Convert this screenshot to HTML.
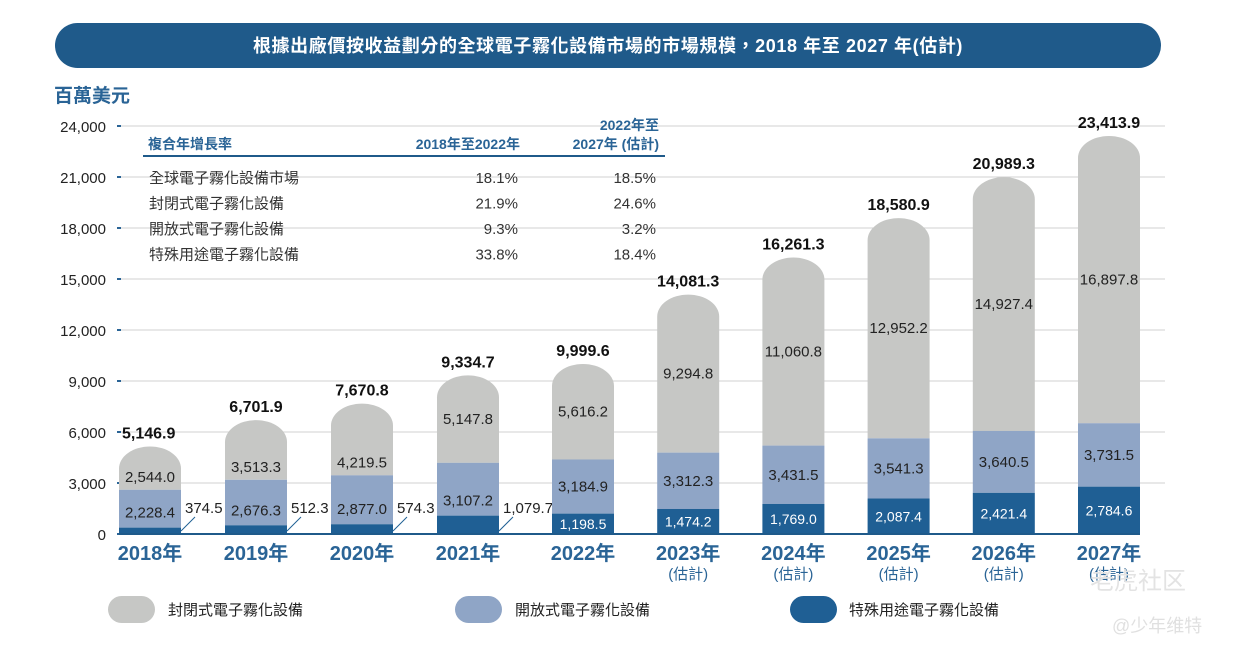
<!DOCTYPE html>
<html><head><meta charset="utf-8"><style>
body{margin:0;background:#fff;}
svg text{font-family:"Liberation Sans","Noto Sans CJK TC",sans-serif;}
</style></head><body>
<svg id="chart" width="1242" height="652" viewBox="0 0 1242 652" xmlns="http://www.w3.org/2000/svg">
<rect x="55" y="23" width="1106" height="45" rx="22.5" fill="#1f5a8a"/>
<text x="608" y="52" text-anchor="middle" fill="#fff" font-size="18" font-weight="bold" letter-spacing="0.6">根據出廠價按收益劃分的全球電子霧化設備市場的市場規模，2018 年至 2027 年(估計)</text>
<text x="54" y="102" fill="#2a6496" font-size="19" font-weight="bold">百萬美元</text>
<g id="grid"></g>
<g>
<text x="148" y="149" fill="#2a6496" font-size="14" font-weight="bold">複合年增長率</text>
<text x="520" y="149" text-anchor="end" fill="#2a6496" font-size="14" font-weight="bold">2018年至2022年</text>
<text x="659" y="130" text-anchor="end" fill="#2a6496" font-size="14" font-weight="bold">2022年至</text>
<text x="659" y="149" text-anchor="end" fill="#2a6496" font-size="14" font-weight="bold">2027年 (估計)</text>
<line x1="143" y1="156" x2="665" y2="156" stroke="#1f5a8a" stroke-width="2"/>
<g id="rows"></g>
</g>
<g id="bars"></g>
<g>
<rect x="108" y="596" width="47" height="27" rx="13.5" fill="#c6c7c5"/>
<text x="168" y="615" font-size="15" fill="#222">封閉式電子霧化設備</text>
<rect x="455" y="596" width="47" height="27" rx="13.5" fill="#8fa5c6"/>
<text x="515" y="615" font-size="15" fill="#222">開放式電子霧化設備</text>
<rect x="790" y="596" width="47" height="27" rx="13.5" fill="#1f5f94"/>
<text x="849" y="615" font-size="15" fill="#222">特殊用途電子霧化設備</text>
</g>
<text x="1090" y="589" font-size="24" fill="#e3e3e3">老虎社区</text>
<text x="1112" y="632" font-size="18" fill="#e0e0e0">@少年维特</text>
</svg>
<script>
const years=["2018年","2019年","2020年","2021年","2022年","2023年","2024年","2025年","2026年","2027年"];
const estimated=[false,false,false,false,false,true,true,true,true,true];
const special=[374.5,512.3,574.3,1079.7,1198.5,1474.2,1769.0,2087.4,2421.4,2784.6];
const openSys=[2228.4,2676.3,2877.0,3107.2,3184.9,3312.3,3431.5,3541.3,3640.5,3731.5];
const closedSys=[2544.0,3513.3,4219.5,5147.8,5616.2,9294.8,11060.8,12952.2,14927.4,16897.8];
const totals=[5146.9,6701.9,7670.8,9334.7,9999.6,14081.3,16261.3,18580.9,20989.3,23413.9];
const yTicks=[0,3000,6000,9000,12000,15000,18000,21000,24000];
const tableNames=["全球電子霧化設備市場","封閉式電子霧化設備","開放式電子霧化設備","特殊用途電子霧化設備"];
const cagr1=["18.1%","21.9%","9.3%","33.8%"];
const cagr2=["18.5%","24.6%","3.2%","18.4%"];

const NS="http://www.w3.org/2000/svg";
const y=v=>534-v*(408/24000);
const xc=i=>150+i*106+(i>=4?9:0)-(i>=5?(i-4)*0.8:0);
const BW=62;
const fmt=v=>v.toLocaleString("en-US",{minimumFractionDigits:1,maximumFractionDigits:1});
function mk(tag,attrs,parent,txt){const e=document.createElementNS(NS,tag);for(const k in attrs)e.setAttribute(k,attrs[k]);if(txt!==undefined)e.textContent=txt;parent.appendChild(e);return e;}

const grid=document.getElementById('grid');
yTicks.forEach(t=>{
  if(t>0){const g=mk('line',{x1:121,x2:1165,y1:y(t),y2:y(t),stroke:'#d0d0d0','stroke-width':1},grid);
  
  }
  const tk=mk('line',{x1:117,x2:121,y1:y(t),y2:y(t),stroke:'#2a6496','stroke-width':2},grid);
  
  
  const lb=mk('text',{x:106,y:y(t)+6,'text-anchor':'end','font-size':15,fill:'#222'},grid,t.toLocaleString('en-US'));
  
  
});

const rows=document.getElementById('rows');
tableNames.forEach((n,i)=>{
  const ry=183+i*25.5;
  const a=mk('text',{x:149,y:ry,'font-size':15,fill:'#333'},rows,n);
  
  
  const b=mk('text',{x:518,y:ry,'text-anchor':'end','font-size':15,fill:'#333'},rows,cagr1[i]);
  
  
  const c=mk('text',{x:656,y:ry,'text-anchor':'end','font-size':15,fill:'#333'},rows,cagr2[i]);
  
  
});

const bars=document.getElementById('bars');
years.forEach((yr,i)=>{
  const cx=xc(i),x0=cx-BW/2,x1=cx+BW/2;
  const b0=y(0),b1=y(special[i]),b2=y(special[i]+openSys[i]),top=y(special[i]+openSys[i]+closedSys[i]);
  const ry=Math.min(22,(b2-top)*0.9);
  const gp=mk('path',{d:`M${x0},${b2} L${x0},${top+ry} A${BW/2},${ry} 0 0 1 ${x1},${top+ry} L${x1},${b2} Z`,fill:'#c6c7c5'},bars);
  
  
  const op=mk('rect',{x:x0,y:b2,width:BW,height:b1-b2,fill:'#8fa5c6'},bars);
  
  
  const sp=mk('rect',{x:x0,y:b1,width:BW,height:b0-b1,fill:'#1f5f94'},bars);
  
  
  const tl=mk('text',{x:i==0?x0+3:cx,y:top-8,'text-anchor':i==0?'start':'middle','font-size':16,'font-weight':'bold',fill:'#111'},bars,fmt(totals[i]));
  
  
  const gh=b2-top;
  const gy=gh>80?(b2+top)/2+5:b2-8;
  const gl=mk('text',{x:cx,y:gy,'text-anchor':'middle','font-size':15,fill:'#222'},bars,fmt(closedSys[i]));
  
  
  const oy=i<4?b1-10:(b1+b2)/2+5;
  const ol=mk('text',{x:cx,y:oy,'text-anchor':'middle','font-size':15,fill:'#222'},bars,fmt(openSys[i]));
  
  
  if(i<4){
    const ll=mk('line',{x1:x1,y1:b0-3,x2:x1+14,y2:b0-17,stroke:'#1f5f94','stroke-width':1},bars);
    
    
    const sl=mk('text',{x:x1+4,y:b0-21,'font-size':15,fill:'#222'},bars,fmt(special[i]));
    
    
  } else {
    const sl=mk('text',{x:cx,y:(b0+b1)/2+5,'text-anchor':'middle','font-size':14,fill:'#fff'},bars,fmt(special[i]));
    
    
  }
  const xl=mk('text',{x:cx,y:560,'text-anchor':'middle','font-size':20,'font-weight':'bold',fill:'#2a6496'},bars,yr);
  
  
  if(estimated[i]){
    const el=mk('text',{x:cx,y:579,'text-anchor':'middle','font-size':15,fill:'#2a6496'},bars,'(估計)');
    
    
  }
});
const base=mk('line',{x1:119,x2:1140,y1:y(0),y2:y(0),stroke:'#1f5a8a','stroke-width':2},bars);


</script>
</body></html>
